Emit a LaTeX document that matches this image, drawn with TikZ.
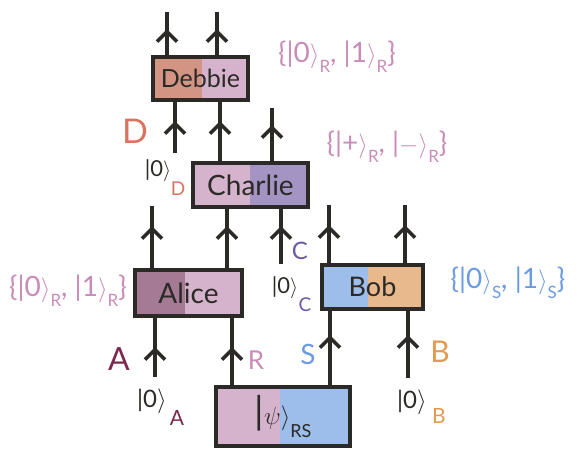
\documentclass[tikz,border=0pt]{standalone}
\usepackage{fontspec}
\setmainfont{Lato}
\usetikzlibrary{arrows.meta,decorations.markings,backgrounds}
\definecolor{ink}{HTML}{2B2A26}
\definecolor{pinkb}{HTML}{D6B3CC}
\definecolor{mauveb}{HTML}{A47A94}
\definecolor{salmonb}{HTML}{D49484}
\definecolor{purpleb}{HTML}{A394C4}
\definecolor{blueb}{HTML}{9DBDEA}
\definecolor{orangeb}{HTML}{E8B98C}
\definecolor{colD}{HTML}{D9735F}
\definecolor{colC}{HTML}{6C5AA8}
\definecolor{colA}{HTML}{7B2A4E}
\definecolor{colR}{HTML}{C98CB8}
\definecolor{colS}{HTML}{6B9BE3}
\definecolor{colB}{HTML}{E39A4F}
\newcommand{\kt}[1]{|#1\ensuremath{\rangle}}
\newcommand{\sbs}[2]{\raisebox{-0.35em}{\fontsize{#1}{#1}\selectfont #2}}
\tikzset{
  wire/.style={color=ink, line width=4pt},
  chev/.style={postaction={decorate}, decoration={markings,
      mark=at position #1 with {\arrow{Straight Barb[length=10pt,width=20pt,line width=3.6pt]}}}},
  box/.style={draw=ink, line width=4pt, inner sep=0pt, text=ink},
  two/.style n args={3}{fill=#2, path picture={\fill[#1] (path picture bounding box.south west) rectangle ([xshift=#3]path picture bounding box.north west);}},
  lab/.style={inner sep=0pt},
  ket/.style={inner sep=0pt, text=ink, font=\fontsize{22}{24}\selectfont},
  setlab/.style={inner sep=0pt, font=\fontsize{28}{30}\selectfont},
}
\begin{document}
\begin{tikzpicture}[x=1pt, y=-1pt]
\useasboundingbox (0,0) rectangle (581,448);
% free ends and wire x-positions
\coordinate (dOutL) at (167,12);
\coordinate (dOutR) at (217,12);
\coordinate (cOutR) at (272,108);
\coordinate (aOutL) at (152,206);
\coordinate (bOutL) at (329,205);
\coordinate (bOutR) at (405,205);
\coordinate (Dstart) at (175,153);
\coordinate (Cstart) at (281,264);
\coordinate (Astart) at (155,377);
\coordinate (Bstart) at (408,378);
\coordinate (xCD) at (220,0);
\coordinate (xAC) at (227,0);
\coordinate (xR) at (232,0);
\coordinate (xS) at (330,0);

% boxes
\node[box, two={salmonb}{pinkb}{49pt}, minimum width=95pt, minimum height=43pt, font=\fontsize{25}{27}\selectfont] (debbie) at (200.5,78.5) {Debbie};
\node[box, two={pinkb}{purpleb}{57pt}, minimum width=115pt, minimum height=44pt, font=\fontsize{28}{30}\selectfont] (charlie) at (250.5,185) {Charlie};
\node[box, two={mauveb}{pinkb}{50pt}, minimum width=107pt, minimum height=46pt, font=\fontsize{28}{30}\selectfont] (alice) at (188.5,293) {Alice};
\node[box, two={blueb}{orangeb}{46pt}, minimum width=101pt, minimum height=44pt, font=\fontsize{27}{29}\selectfont] (bob) at (372.5,287) {Bob};
\node[box, two={pinkb}{blueb}{64pt}, minimum width=134pt, minimum height=59pt, font=\fontsize{38}{40}\selectfont] (psi) at (283,416.5)
      {|\ensuremath{\psi\rangle}\sbs{18}{RS}};

% wires (behind the boxes)
\begin{scope}[on background layer]
\draw[wire, chev=-17pt] (debbie.north -| dOutL) -- (dOutL);
\draw[wire, chev=-17pt] (debbie.north -| dOutR) -- (dOutR);
\draw[wire, chev=-19pt] (Dstart) -- (debbie.south -| Dstart);
\draw[wire, chev=-19pt] (charlie.north -| xCD) -- (debbie.south -| xCD);
\draw[wire, chev=-17pt] (charlie.north -| cOutR) -- (cOutR);
\draw[wire, chev=-17pt] (alice.north -| xAC) -- (charlie.south -| xAC);
\draw[wire, chev=-17pt] (Cstart) -- (charlie.south -| Cstart);
\draw[wire, chev=-20pt] (alice.north -| aOutL) -- (aOutL);
\draw[wire, chev=-20pt] (bob.north -| bOutL) -- (bOutL);
\draw[wire, chev=-20pt] (bob.north -| bOutR) -- (bOutR);
\draw[wire, chev=-29pt] (Astart) -- (alice.south -| Astart);
\draw[wire, chev=-29pt] (psi.north -| xR) -- (alice.south -| xR);
\draw[wire, chev=-24pt] (psi.north -| xS) -- (bob.south -| xS);
\draw[wire, chev=-24pt] (Bstart) -- (bob.south -| Bstart);
\end{scope}

% wire labels
\node[lab, text=colD, font=\fontsize{34}{36}\selectfont] (labD) at (135,131) {D};
\node[lab, text=colC, font=\fontsize{24}{26}\selectfont] (labC) at (300,251) {C};
\node[lab, text=colA, font=\fontsize{32}{34}\selectfont] (labA) at (119,359) {A};
\node[lab, text=colR, font=\fontsize{26}{28}\selectfont] (labR) at (256,360) {R};
\node[lab, text=colS, font=\fontsize{28}{30}\selectfont] (labS) at (308,354) {S};
\node[lab, text=colB, font=\fontsize{30}{32}\selectfont] (labB) at (440,352) {B};

% initial kets
\node[ket] (k0D) at (158,171) {\kt{0}};
\node[lab, text=colD, font=\fontsize{19}{20}\selectfont] (k0Ds) at (178,189) {D};
\node[ket] (k0C) at (285,288) {\kt{0}};
\node[lab, text=colC, font=\fontsize{19}{20}\selectfont] (k0Cs) at (305,305) {C};
\node[ket, font=\fontsize{24}{26}\selectfont] (k0A) at (152,401) {\kt{0}};
\node[lab, text=colA, font=\fontsize{21}{22}\selectfont] (k0As) at (177,418) {A};
\node[ket, font=\fontsize{24}{26}\selectfont] (k0B) at (412,402) {\kt{0}};
\node[lab, text=colB, font=\fontsize{21}{22}\selectfont] (k0Bs) at (439,416) {B};

% basis sets
\node[setlab, text=colR] (setD) at (337,57) {\{\kt{0}\sbs{17}{R}, \kt{1}\sbs{17}{R}\}};
\node[setlab, text=colR] (setC) at (387,147) {\{\kt{+}\sbs{17}{R}, \kt{$-$}\sbs{17}{R}\}};
\node[setlab, text=colR] (setA) at (68,291) {\{\kt{0}\sbs{17}{R}, \kt{1}\sbs{17}{R}\}};
\node[setlab, text=colS] (setB) at (508,283) {\{\kt{0}\sbs{17}{S}, \kt{1}\sbs{17}{S}\}};
\end{tikzpicture}
\end{document}
